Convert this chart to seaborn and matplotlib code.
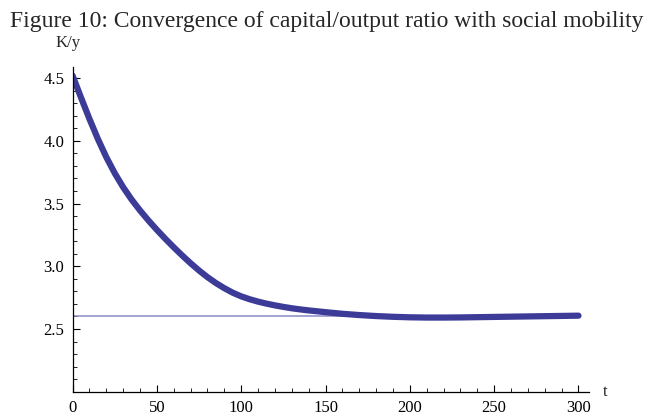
import numpy as np
import pandas as pd
import seaborn as sns
import matplotlib.pyplot as plt
from matplotlib.ticker import MultipleLocator

# values
t = [0, 5, 10, 15, 20, 25, 30, 35, 40, 45, 50, 55, 60, 65, 70, 75, 80, 85,
     90, 95, 100, 105, 110, 115, 120, 125, 130, 135, 140, 150, 160, 170, 180,
     190, 200, 210, 220, 230, 240, 250, 260, 270, 280, 290, 300]
ky = [4.52, 4.345, 4.175, 4.015, 3.870, 3.742, 3.630, 3.532, 3.445, 3.365,
      3.290, 3.219, 3.151, 3.086, 3.024, 2.966, 2.913, 2.866, 2.825, 2.789,
      2.760, 2.737, 2.718, 2.702, 2.688, 2.676, 2.665, 2.656, 2.648, 2.634,
      2.621, 2.611, 2.603, 2.597, 2.593, 2.591, 2.591, 2.592, 2.594, 2.596,
      2.598, 2.600, 2.602, 2.604, 2.606]
steady_t = [0, 300]
steady_ky = [2.6, 2.6]

df = pd.DataFrame({"t": t, "K/y": ky})
steady = pd.DataFrame({"t": steady_t, "K/y": steady_ky})

sns.set_style("white")
plt.rcParams['font.family'] = ['Liberation Serif', 'DejaVu Serif']

fig = plt.figure(figsize=(6.54, 4.18), dpi=100)
ax = fig.add_axes([0.111, 0.063, 0.789, 0.777])

sns.lineplot(data=steady, x="t", y="K/y", ax=ax, color="#8a8ac6", linewidth=1.1)
sns.lineplot(data=df, x="t", y="K/y", ax=ax, color="#3c3c98", linewidth=4.5,
             solid_capstyle="round", solid_joinstyle="round")

ax.set_xlim(0, 306)
ax.set_ylim(2.0, 4.59)
ax.set_xlabel("")
ax.set_ylabel("")

for side in ["top", "right"]:
    ax.spines[side].set_visible(False)
for side in ["left", "bottom"]:
    ax.spines[side].set_color("black")
    ax.spines[side].set_linewidth(0.9)

ax.xaxis.set_major_locator(MultipleLocator(50))
ax.xaxis.set_minor_locator(MultipleLocator(10))
ax.set_yticks([2.5, 3.0, 3.5, 4.0, 4.5])
ax.yaxis.set_minor_locator(MultipleLocator(0.1))
ax.set_yticklabels(["2.5", "3.0", "3.5", "4.0", "4.5"])
ax.tick_params(which="major", direction="in", length=5, width=0.8,
               labelsize=12, colors="black", pad=6)
ax.tick_params(which="minor", direction="in", length=3, width=0.6, colors="black")
ax.tick_params(axis="both", which="both", bottom=True, left=True)

fig.text(0.5, 0.935, "Figure 10: Convergence of capital/output ratio with social mobility",
         ha="center", va="baseline", fontsize=17)
fig.text(0.104, 0.888, "K/y", ha="center", va="baseline", fontsize=12)
fig.text(0.926, 0.062, "t", ha="center", va="center", fontsize=12)

fig.savefig("out.png", dpi=100)
